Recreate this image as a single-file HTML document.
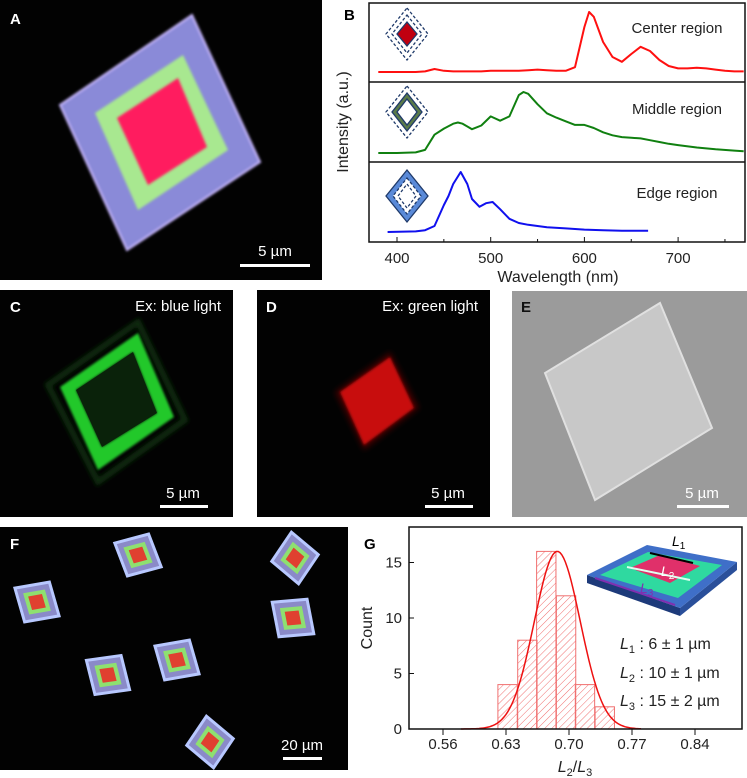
<!DOCTYPE html>
<html><head><meta charset="utf-8"><style>
html,body{margin:0;padding:0;background:#fff;}
svg{display:block;font-family:"Liberation Sans",sans-serif;}
</style></head><body>
<svg id="fig" width="747" height="778" viewBox="0 0 747 778" xmlns="http://www.w3.org/2000/svg">
<defs>
<filter id="glow" x="-30%" y="-30%" width="160%" height="160%"><feGaussianBlur stdDeviation="1.2"/></filter>
<filter id="blur3" x="-30%" y="-30%" width="160%" height="160%"><feGaussianBlur stdDeviation="3"/></filter>
<filter id="blur2" x="-30%" y="-30%" width="160%" height="160%"><feGaussianBlur stdDeviation="2"/></filter>
<pattern id="hatch" width="5" height="5" patternUnits="userSpaceOnUse" patternTransform="rotate(45)"><line x1="0" y1="0" x2="0" y2="5" stroke="#f07070" stroke-width="1"/></pattern>
</defs>

<!-- Panel A -->
<g>
<rect x="0" y="0" width="322" height="280" fill="#020202"/>
<polygon points="192,15 260,162 127,250 60,105" fill="#8a8ad8" stroke="#c8b8ff" stroke-width="2" filter="url(#glow)"/>
<polygon points="183,55 228,150 138,210 95,113" fill="#a8e890" filter="url(#glow)"/>
<polygon points="178,78 207,147 148,185 117,118" fill="#ff1a5e" filter="url(#glow)"/>
<text x="10" y="24" fill="#fff" font-size="15" font-weight="bold">A</text>
<text x="275" y="256" fill="#fff" font-size="15" text-anchor="middle">5 µm</text>
<rect x="240" y="264" width="70" height="3" fill="#fff"/>
</g>

<!-- Panel B -->
<g id="panelB">
<rect x="369" y="3" width="376" height="239" fill="#fff" stroke="#111" stroke-width="1.5"/>
<line x1="369" y1="82" x2="745" y2="82" stroke="#111" stroke-width="1.5"/>
<line x1="369" y1="162" x2="745" y2="162" stroke="#111" stroke-width="1.5"/>
<text x="344" y="20" font-size="15" font-weight="bold">B</text>
<text x="0" y="0" font-size="16" text-anchor="middle" transform="translate(348,122) rotate(-90)" fill="#222">Intensity (a.u.)</text>
<text x="558" y="282" font-size="16" text-anchor="middle" fill="#222">Wavelength (nm)</text>
<text x="677" y="33" font-size="15" text-anchor="middle" fill="#222">Center region</text>
<text x="677" y="114" font-size="15" text-anchor="middle" fill="#222">Middle region</text>
<text x="677" y="198" font-size="15" text-anchor="middle" fill="#222">Edge region</text>
<g stroke="#1f3a6a" stroke-width="1.3" fill="none" stroke-dasharray="3,2">
<polygon points="407,8 428,34 407,60 386,34"/><polygon points="407,15 422,34 407,53 392,34"/>
<polygon points="407,22 417,34 407,46 397,34" fill="#c00010" stroke-dasharray="none"/></g>
<g stroke="#1f3a6a" stroke-width="1.3" fill="none">
<polygon points="407,86 428,112 407,138 386,112" stroke-dasharray="3,2"/>
<polygon points="407,93 422,112 407,131 392,112" fill="#5a7a4a"/>
<polygon points="407,99 417,112 407,125 397,112" fill="#fff"/></g>
<g stroke="#1f3a6a" stroke-width="1.3" fill="none">
<polygon points="407,170 428,196 407,222 386,196" fill="#5a8ad8"/>
<polygon points="407,178 421,196 407,214 393,196" fill="#fff" stroke-dasharray="3,2"/>
<polygon points="407,184 416,196 407,208 398,196" stroke-dasharray="3,2"/></g>
<g id="bTicks"></g>
<g id="bLines"></g>
</g>

<!-- Panel C -->
<g>
<rect x="0" y="290" width="233" height="227" fill="#020202"/>
<polygon points="138,322 185,420 98,482 48,385" fill="none" stroke="#0a2a0a" stroke-width="6" filter="url(#blur2)"/>
<path d="M138,333 L174,417 L98,470 L60,387 Z M133,352 L76,390 L102,447 L157,413 Z" fill="#22c82a" fill-rule="evenodd" filter="url(#glow)"/>
<polygon points="133,352 157,413 102,447 76,390" fill="#0a220a"/>
<text x="10" y="312" fill="#fff" font-size="15" font-weight="bold">C</text>
<text x="221" y="311" fill="#fff" font-size="15" text-anchor="end">Ex: blue light</text>
<text x="183" y="498" fill="#fff" font-size="15" text-anchor="middle">5 µm</text>
<rect x="160" y="505" width="48" height="3" fill="#fff"/>
</g>

<!-- Panel D -->
<g>
<rect x="257" y="290" width="233" height="227" fill="#020202"/>
<polygon points="390,352 419,408 364,450 335,392" fill="#400000" filter="url(#blur3)"/>
<polygon points="390,357 414,408 364,445 340,392" fill="#c81010" filter="url(#glow)"/>
<text x="266" y="312" fill="#fff" font-size="15" font-weight="bold">D</text>
<text x="478" y="311" fill="#fff" font-size="15" text-anchor="end">Ex:  green light</text>
<text x="448" y="498" fill="#fff" font-size="15" text-anchor="middle">5 µm</text>
<rect x="425" y="505" width="48" height="3" fill="#fff"/>
</g>

<!-- Panel E -->
<g>
<rect x="512" y="291" width="235" height="226" fill="#9b9b9b"/>
<polygon points="660,303 712,428 595,500 545,373" fill="#c8c8c8" stroke="#e0e0e0" stroke-width="2"/>
<text x="521" y="312" fill="#111" font-size="15" font-weight="bold">E</text>
<text x="702" y="498" fill="#fff" font-size="15" text-anchor="middle">5 µm</text>
<rect x="677" y="505" width="52" height="3" fill="#fff"/>
</g>

<!-- Panel F -->
<g id="panelF">
<rect x="0" y="527" width="348" height="243" fill="#020202"/>
<text x="10" y="549" fill="#fff" font-size="15" font-weight="bold">F</text>
<text x="302" y="750" fill="#fff" font-size="15" text-anchor="middle">20 µm</text>
<rect x="283" y="757" width="39" height="3" fill="#fff"/>
</g>

<!-- Panel G -->
<g id="panelG">
<text x="364" y="549" font-size="15" font-weight="bold">G</text>
<g id="gBars"></g>
<path id="gFit" fill="none" stroke="#ee1111" stroke-width="1.5"/>
<rect x="409" y="527" width="333" height="202" fill="none" stroke="#111" stroke-width="1.5"/>
<g id="gTicks"></g>
<text x="0" y="0" font-size="16" text-anchor="middle" transform="translate(372,628) rotate(-90)" fill="#222">Count</text>
<text x="575" y="772" font-size="16" text-anchor="middle" fill="#222"><tspan font-style="italic">L</tspan><tspan font-size="11" dy="4">2</tspan><tspan dy="-4">/</tspan><tspan font-style="italic">L</tspan><tspan font-size="11" dy="4">3</tspan></text>
<g>
<polygon points="587,575 680,608 680,616 587,583" fill="#1d3a7a"/>
<polygon points="680,608 737,562 737,570 680,616" fill="#2a4f9a"/>
<polygon points="587,575 647,545 737,562 680,608" fill="#3f6fc8"/>
<polygon points="600,575 648,552 722,565 678,598" fill="#2fd9a0"/>
<polygon points="630,568 660,555 700,566 670,583" fill="#e0306a"/>
<line x1="650" y1="553" x2="693" y2="563" stroke="#000" stroke-width="2"/>
<line x1="627" y1="567" x2="690" y2="580" stroke="#dffff0" stroke-width="2"/>
<line x1="595" y1="578" x2="675" y2="605" stroke="#8030b0" stroke-width="2"/>
<text x="672" y="546" font-size="14" font-style="italic">L<tspan font-size="10" dy="3" font-style="normal">1</tspan></text>
<text x="661" y="576" font-size="14" font-style="italic" fill="#fff">L<tspan font-size="10" dy="3" font-style="normal">2</tspan></text>
<text x="640" y="593" font-size="14" font-style="italic" fill="#8030b0">L<tspan font-size="10" dy="3" font-style="normal">3</tspan></text>
</g>
<text x="620" y="649" font-size="16" fill="#222"><tspan font-style="italic">L</tspan><tspan font-size="11" dy="4">1</tspan><tspan dy="-4"> : 6 ± 1 µm</tspan></text>
<text x="620" y="678" font-size="16" fill="#222"><tspan font-style="italic">L</tspan><tspan font-size="11" dy="4">2</tspan><tspan dy="-4"> : 10 ± 1 µm</tspan></text>
<text x="620" y="706" font-size="16" fill="#222"><tspan font-style="italic">L</tspan><tspan font-size="11" dy="4">3</tspan><tspan dy="-4"> : 15 ± 2 µm</tspan></text>
</g>
</svg>
<script>
const NS='http://www.w3.org/2000/svg';
const redNm=[380,390,400,410,420,430,440,450,460,470,480,490,500,510,520,530,540,550,560,570,580,590,600,605,610,620,630,640,650,660,670,680,690,700,710,720,730,740,750,760,770];
const redVal=[0,0,0,0,0,0.01,0.05,0.02,0.01,0.01,0.01,0.01,0.02,0.02,0.02,0.02,0.03,0.04,0.03,0.02,0.02,0.08,0.75,1.0,0.92,0.5,0.25,0.17,0.3,0.42,0.35,0.2,0.1,0.06,0.06,0.07,0.06,0.04,0.02,0.01,0.01];
const greenNm=[380,400,420,430,440,450,460,465,470,480,490,500,510,520,530,535,540,550,560,570,580,590,600,610,620,630,640,650,660,670,680,690,700,720,740,760,770];
const greenVal=[0,0,0.01,0.05,0.3,0.4,0.48,0.5,0.48,0.39,0.45,0.6,0.53,0.6,0.95,1.0,0.97,0.8,0.65,0.58,0.52,0.46,0.46,0.41,0.34,0.29,0.26,0.25,0.24,0.21,0.18,0.15,0.13,0.09,0.06,0.04,0.03];
const blueNm=[390,420,430,440,450,455,460,468,475,480,488,495,502,510,520,530,540,550,560,580,600,620,640,668];
const blueVal=[0,0.01,0.03,0.1,0.45,0.6,0.8,1.0,0.8,0.55,0.42,0.48,0.5,0.38,0.22,0.15,0.12,0.1,0.08,0.06,0.04,0.03,0.02,0.02];
const bMajor=[400,500,600,700];
const bMinor=[450,550,650,750];
const bx=nm=>397+(nm-400)*0.937;
const byRed=v=>72-v*60, byGreen=v=>153-v*61, byBlue=v=>232-v*60;
function poly(nm,val,fy,color,name){
  const p=document.createElementNS(NS,'polyline');
  p.setAttribute('points',nm.map((n,i)=>bx(n).toFixed(1)+','+fy(val[i]).toFixed(1)).join(' '));
  p.setAttribute('fill','none');p.setAttribute('stroke',color);p.setAttribute('stroke-width','2');p.setAttribute('stroke-linejoin','round');
  
  
  document.getElementById('bLines').appendChild(p);
}
poly(redNm,redVal,byRed,'#ff1010','center-spectrum');
poly(greenNm,greenVal,byGreen,'#108010','middle-spectrum');
poly(blueNm,blueVal,byBlue,'#1010ee','edge-spectrum');
const bt=document.getElementById('bTicks');
bMajor.forEach(n=>{
  const l=document.createElementNS(NS,'line');l.setAttribute('x1',bx(n));l.setAttribute('x2',bx(n));l.setAttribute('y1',242);l.setAttribute('y2',237);l.setAttribute('stroke','#111');
  
  
  bt.appendChild(l);
  const t=document.createElementNS(NS,'text');t.setAttribute('x',bx(n));t.setAttribute('y',263);t.setAttribute('text-anchor','middle');t.setAttribute('font-size','15');t.setAttribute('fill','#222');t.textContent=n;
  
  
  bt.appendChild(t);
});
bMinor.forEach(n=>{
  const l=document.createElementNS(NS,'line');l.setAttribute('x1',bx(n));l.setAttribute('x2',bx(n));l.setAttribute('y1',242);l.setAttribute('y2',239);l.setAttribute('stroke','#111');
  
  
  bt.appendChild(l);
});
const fx=[138,37,295,293,108,177,210];
const fy=[555,602,558,618,675,660,742];
const fang=[-15,-10,40,-5,-8,-10,40];
const pf=document.getElementById('panelF');
fx.forEach((x,i)=>{
  const g=document.createElementNS(NS,'g');
  g.setAttribute('transform',`translate(${x},${fy[i]}) rotate(${fang[i]}) skewX(6)`);
  
  
  [[19,'#b8c8ff'],[16,'#8a8ac8'],[11,'#8ee070'],[7,'#e04030']].forEach(([s,c])=>{
    const r=document.createElementNS(NS,'rect');r.setAttribute('x',-s);r.setAttribute('y',-s);r.setAttribute('width',2*s);r.setAttribute('height',2*s);r.setAttribute('fill',c);
    g.appendChild(r);
  });
  pf.insertBefore(g,pf.children[1]);
});
const binStart=[0.621,0.643,0.664,0.686,0.707,0.729];
const binCount=[4,8,16,12,4,2];
const binWidth=0.0215;
const fitMean=0.687, fitSigma=0.0255, fitPeak=16;
const gTickVals=[0.56,0.63,0.70,0.77,0.84];
const gTickLabels=['0.56','0.63','0.70','0.77','0.84'];
const gYTicks=[0,5,10,15];
const gx=v=>443+(v-0.56)*900;
const gy=c=>729-c*11.1;
const gb=document.getElementById('gBars');
binStart.forEach((s,i)=>{
  const r=document.createElementNS(NS,'rect');
  r.setAttribute('x',gx(s));r.setAttribute('width',gx(s+binWidth)-gx(s));
  r.setAttribute('y',gy(binCount[i]));r.setAttribute('height',gy(0)-gy(binCount[i]));
  r.setAttribute('fill','url(#hatch)');r.setAttribute('stroke','#f07070');r.setAttribute('stroke-width','1');
  
  
  gb.appendChild(r);
});
let d='';
for(let k=0;k<=100;k++){const v=0.58+k*0.002;const c=fitPeak*Math.exp(-0.5*Math.pow((v-fitMean)/fitSigma,2));d+=(k?'L':'M')+gx(v).toFixed(1)+','+gy(c).toFixed(1);}
document.getElementById('gFit').setAttribute('d',d);
const gt=document.getElementById('gTicks');
gTickVals.forEach((v,i)=>{
  const l=document.createElementNS(NS,'line');l.setAttribute('x1',gx(v));l.setAttribute('x2',gx(v));l.setAttribute('y1',729);l.setAttribute('y2',735);l.setAttribute('stroke','#111');
  
  
  gt.appendChild(l);
  const t=document.createElementNS(NS,'text');t.setAttribute('x',gx(v));t.setAttribute('y',749);t.setAttribute('text-anchor','middle');t.setAttribute('font-size','15');t.setAttribute('fill','#222');t.textContent=gTickLabels[i];
  
  
  gt.appendChild(t);
});
gYTicks.forEach(c=>{
  const l=document.createElementNS(NS,'line');l.setAttribute('x1',409);l.setAttribute('x2',414);l.setAttribute('y1',gy(c));l.setAttribute('y2',gy(c));l.setAttribute('stroke','#111');
  
  
  gt.appendChild(l);
  const t=document.createElementNS(NS,'text');t.setAttribute('x',402);t.setAttribute('y',gy(c)+5);t.setAttribute('text-anchor','end');t.setAttribute('font-size','15');t.setAttribute('fill','#222');t.textContent=c;
  
  
  gt.appendChild(t);
});
</script>
</body></html>
